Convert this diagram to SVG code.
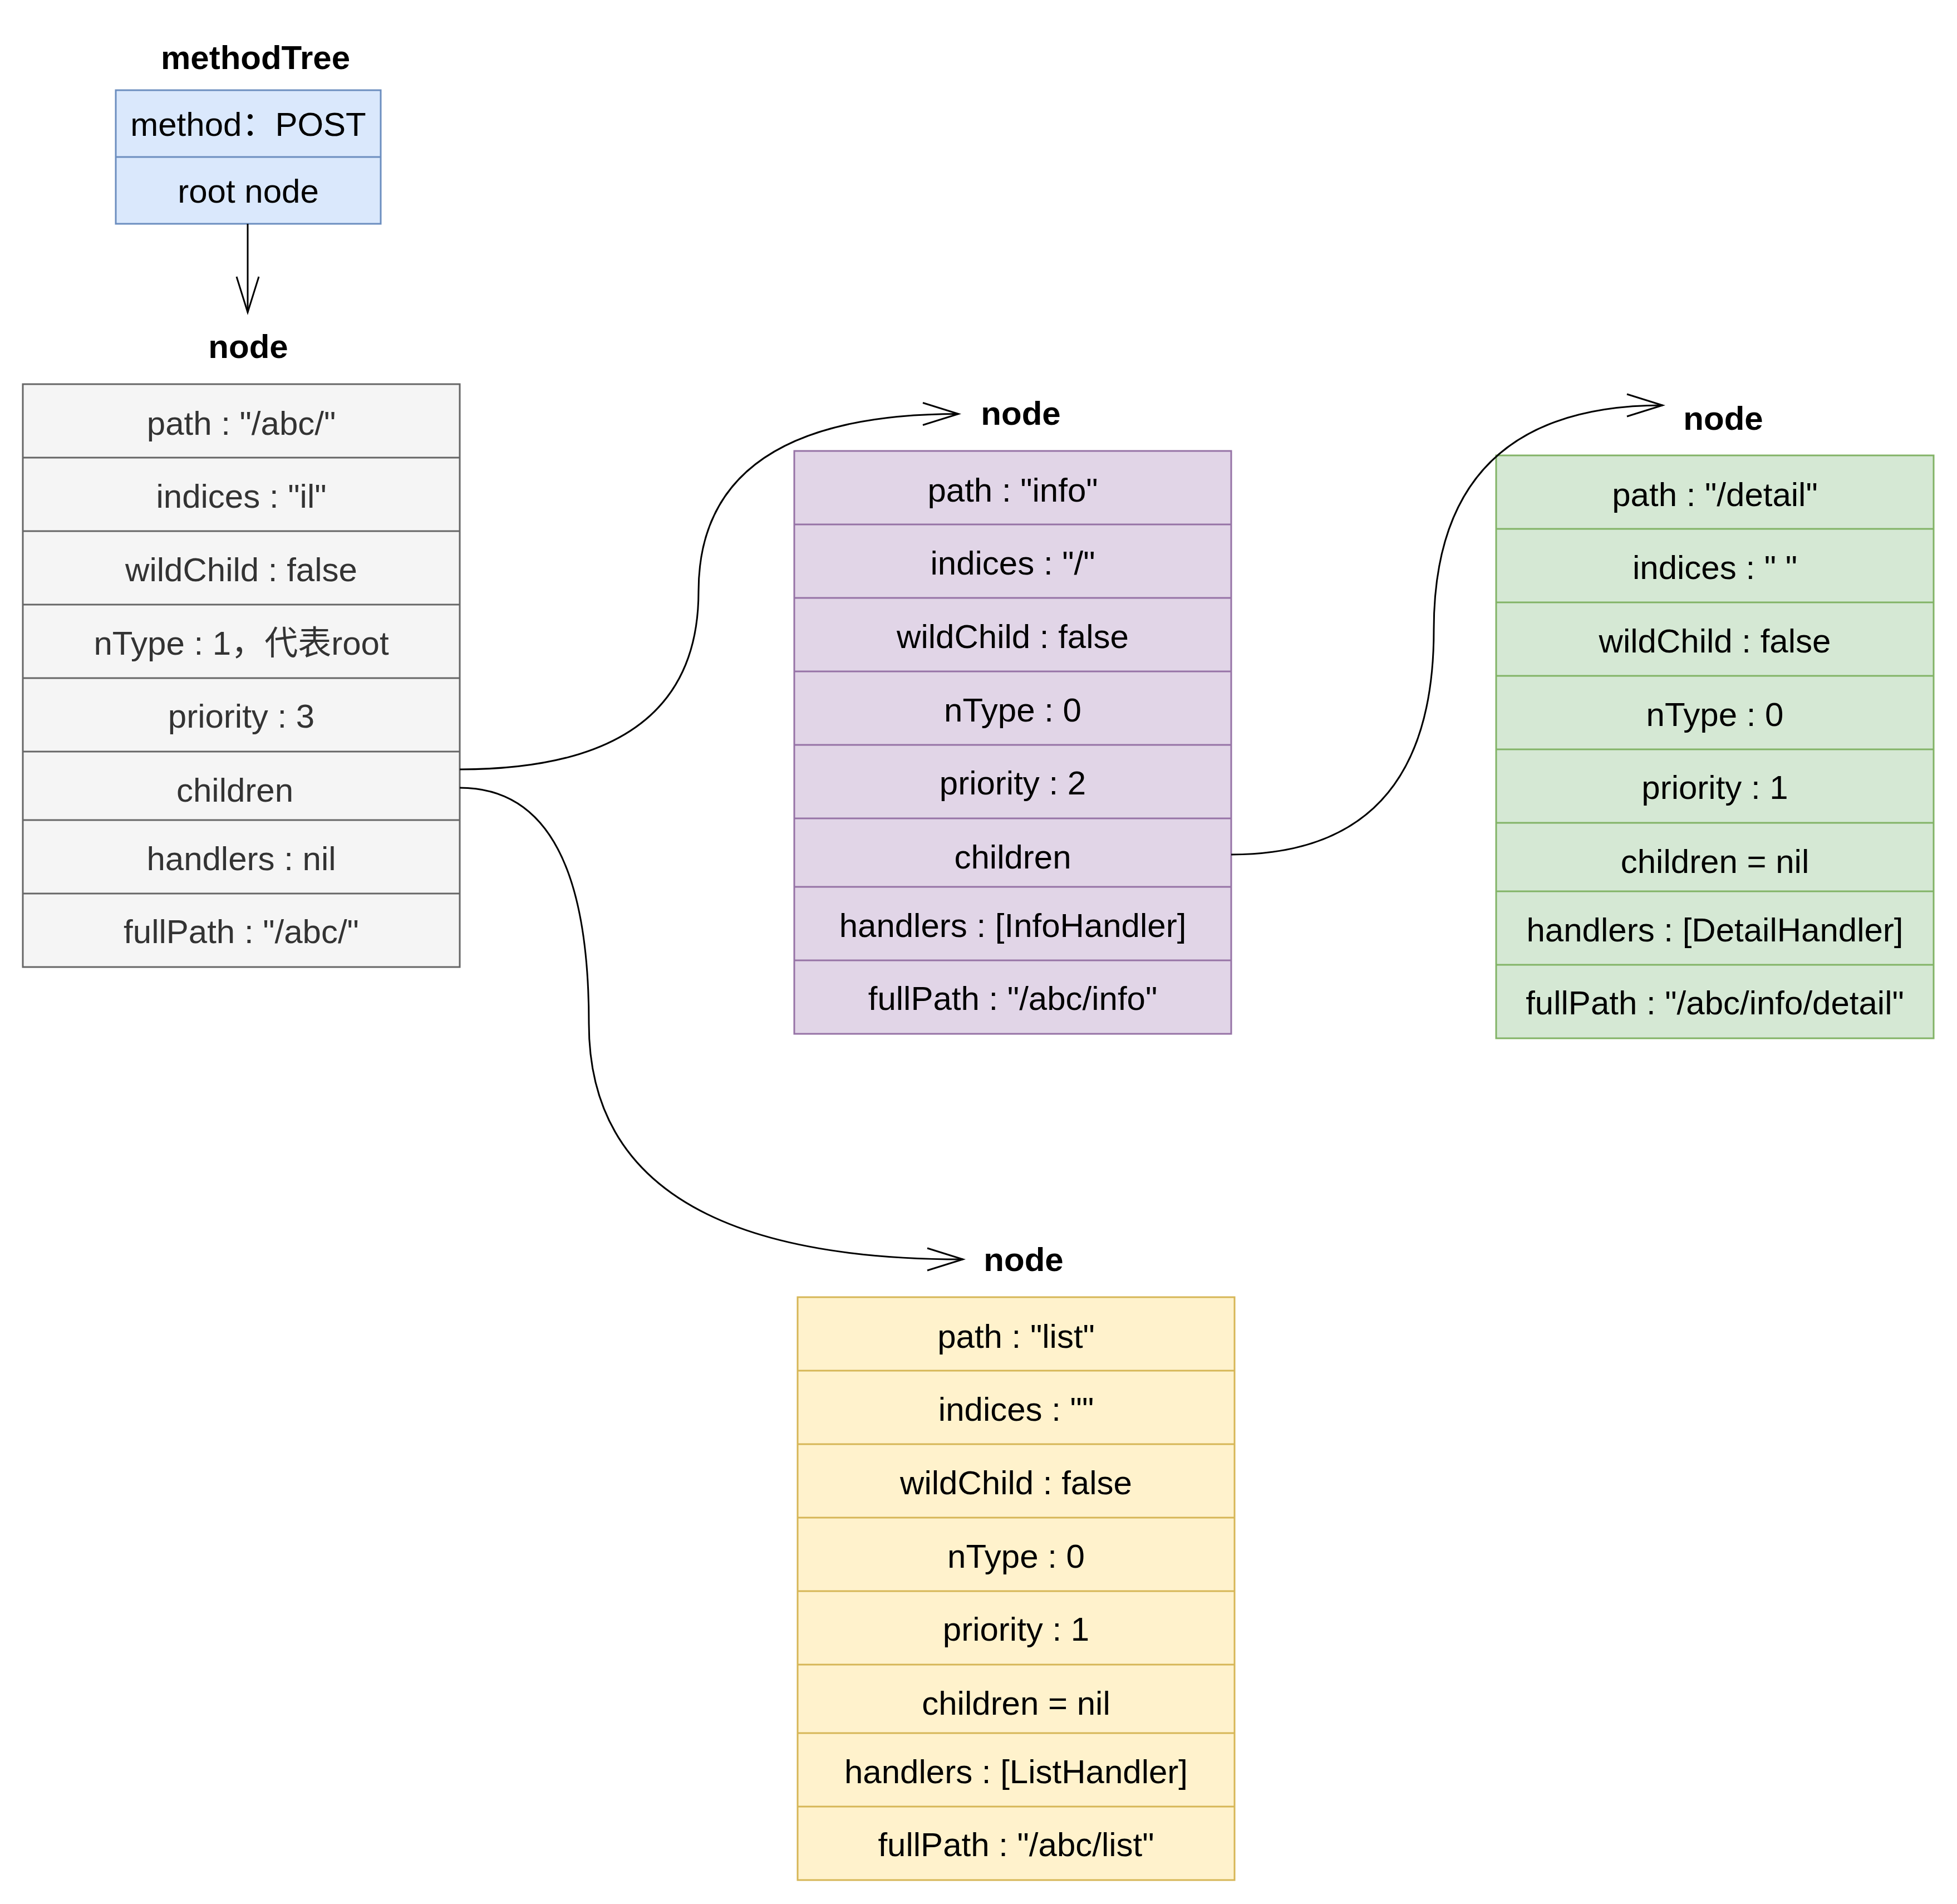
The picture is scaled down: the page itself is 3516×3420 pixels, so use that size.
<svg xmlns="http://www.w3.org/2000/svg" width="3516" height="3420" viewBox="0 0 3516 3420">
<style>
text{font-family:"Liberation Sans","Noto Sans CJK SC",Arial,sans-serif;font-size:60px;text-anchor:middle;fill:#000}
.title{font-weight:bold}
.gray text.row{fill:#333333}
.box{stroke-width:3}
.sep{stroke-width:3}
.blue .box{fill:#dae8fc;stroke:#6c8ebf}.blue .sep{stroke:#6c8ebf}
.gray .box{fill:#f5f5f5;stroke:#666666}.gray .sep{stroke:#666666}
.purple .box{fill:#e1d5e7;stroke:#9673a6}.purple .sep{stroke:#9673a6}
.green .box{fill:#d5e8d4;stroke:#82b366}.green .sep{stroke:#82b366}
.yellow .box{fill:#fff2cc;stroke:#d6b656}.yellow .sep{stroke:#d6b656}
.edge{fill:none;stroke:#000;stroke-width:3;marker-end:url(#open)}
</style>
<defs>
<marker id="open" markerUnits="userSpaceOnUse" markerWidth="80" markerHeight="50" refX="64" refY="21" orient="auto" viewBox="0 0 80 50" overflow="visible">
<path d="M0,1 L64,21 L0,41" fill="none" stroke="#000" stroke-width="3"/>
</marker>
</defs>
<rect width="3516" height="3420" fill="#ffffff"/>

<g id="methodTree" class="blue">
<text class="title" x="459" y="124">methodTree</text>
<rect class="box" x="208" y="162" width="476" height="240"/>
<line class="sep" x1="208" y1="282" x2="684" y2="282"/>
<text x="446" y="244">method：POST</text>
<text x="446" y="364">root node</text>
</g>

<g id="node-root" class="gray">
<text class="title" x="446" y="643">node</text>
<rect class="box" x="41" y="690" width="785" height="1047"/>
<line class="sep" x1="41" y1="822" x2="826" y2="822"/>
<line class="sep" x1="41" y1="954" x2="826" y2="954"/>
<line class="sep" x1="41" y1="1086" x2="826" y2="1086"/>
<line class="sep" x1="41" y1="1218" x2="826" y2="1218"/>
<line class="sep" x1="41" y1="1350" x2="826" y2="1350"/>
<line class="sep" x1="41" y1="1473" x2="826" y2="1473"/>
<line class="sep" x1="41" y1="1605" x2="826" y2="1605"/>
<text class="row" x="433.5" y="781">path : "/abc/"</text>
<text class="row" x="433.5" y="912">indices : "il"</text>
<text class="row" x="433.5" y="1044">wildChild : false</text>
<text class="row" x="433.5" y="1176">nType : 1，代表root</text>
<text class="row" x="433.5" y="1307">priority : 3</text>
<text class="row" x="422" y="1440">children</text>
<text class="row" x="433.5" y="1563">handlers : nil</text>
<text class="row" x="433.5" y="1694">fullPath : "/abc/"</text>
</g>

<g id="node-info" class="purple">
<text class="title" x="1834" y="763">node</text>
<rect class="box" x="1427" y="810" width="785" height="1047"/>
<line class="sep" x1="1427" y1="942" x2="2212" y2="942"/>
<line class="sep" x1="1427" y1="1074" x2="2212" y2="1074"/>
<line class="sep" x1="1427" y1="1206" x2="2212" y2="1206"/>
<line class="sep" x1="1427" y1="1338" x2="2212" y2="1338"/>
<line class="sep" x1="1427" y1="1470" x2="2212" y2="1470"/>
<line class="sep" x1="1427" y1="1593" x2="2212" y2="1593"/>
<line class="sep" x1="1427" y1="1725" x2="2212" y2="1725"/>
<text x="1819.5" y="901">path : "info"</text>
<text x="1819.5" y="1032">indices : "/"</text>
<text x="1819.5" y="1164">wildChild : false</text>
<text x="1819.5" y="1296">nType : 0</text>
<text x="1819.5" y="1427">priority : 2</text>
<text x="1819.5" y="1560">children</text>
<text x="1819.5" y="1683">handlers : [InfoHandler]</text>
<text x="1819.5" y="1814">fullPath : "/abc/info"</text>
</g>

<g id="node-detail" class="green">
<text class="title" x="3096" y="772">node</text>
<rect class="box" x="2688" y="818" width="786" height="1047"/>
<line class="sep" x1="2688" y1="950" x2="3474" y2="950"/>
<line class="sep" x1="2688" y1="1082" x2="3474" y2="1082"/>
<line class="sep" x1="2688" y1="1214" x2="3474" y2="1214"/>
<line class="sep" x1="2688" y1="1346" x2="3474" y2="1346"/>
<line class="sep" x1="2688" y1="1478" x2="3474" y2="1478"/>
<line class="sep" x1="2688" y1="1601" x2="3474" y2="1601"/>
<line class="sep" x1="2688" y1="1733" x2="3474" y2="1733"/>
<text x="3081" y="909">path : "/detail"</text>
<text x="3081" y="1040">indices : " "</text>
<text x="3081" y="1172">wildChild : false</text>
<text x="3081" y="1304">nType : 0</text>
<text x="3081" y="1435">priority : 1</text>
<text x="3081" y="1568">children = nil</text>
<text x="3081" y="1691">handlers : [DetailHandler]</text>
<text x="3081" y="1822">fullPath : "/abc/info/detail"</text>
</g>

<g id="node-list" class="yellow">
<text class="title" x="1839" y="2283">node</text>
<rect class="box" x="1433" y="2330" width="785" height="1047"/>
<line class="sep" x1="1433" y1="2462" x2="2218" y2="2462"/>
<line class="sep" x1="1433" y1="2594" x2="2218" y2="2594"/>
<line class="sep" x1="1433" y1="2726" x2="2218" y2="2726"/>
<line class="sep" x1="1433" y1="2858" x2="2218" y2="2858"/>
<line class="sep" x1="1433" y1="2990" x2="2218" y2="2990"/>
<line class="sep" x1="1433" y1="3113" x2="2218" y2="3113"/>
<line class="sep" x1="1433" y1="3245" x2="2218" y2="3245"/>
<text x="1825.5" y="2421">path : "list"</text>
<text x="1825.5" y="2552">indices : ""</text>
<text x="1825.5" y="2684">wildChild : false</text>
<text x="1825.5" y="2816">nType : 0</text>
<text x="1825.5" y="2947">priority : 1</text>
<text x="1825.5" y="3080">children = nil</text>
<text x="1825.5" y="3203">handlers : [ListHandler]</text>
<text x="1825.5" y="3334">fullPath : "/abc/list"</text>
</g>

<g id="connectors">
<path class="edge" d="M445,402 L445,561"/>
<path class="edge" d="M826,1382 Q1255,1382 1255,1062.5 Q1255,743.5 1722,743.5"/>
<path class="edge" d="M826,1415 Q1058,1415 1058,1838.5 Q1058,2262 1730,2262"/>
<path class="edge" d="M2212,1535 Q2576,1535 2576,1131.5 Q2576,728 2987,728"/>
</g>
</svg>
